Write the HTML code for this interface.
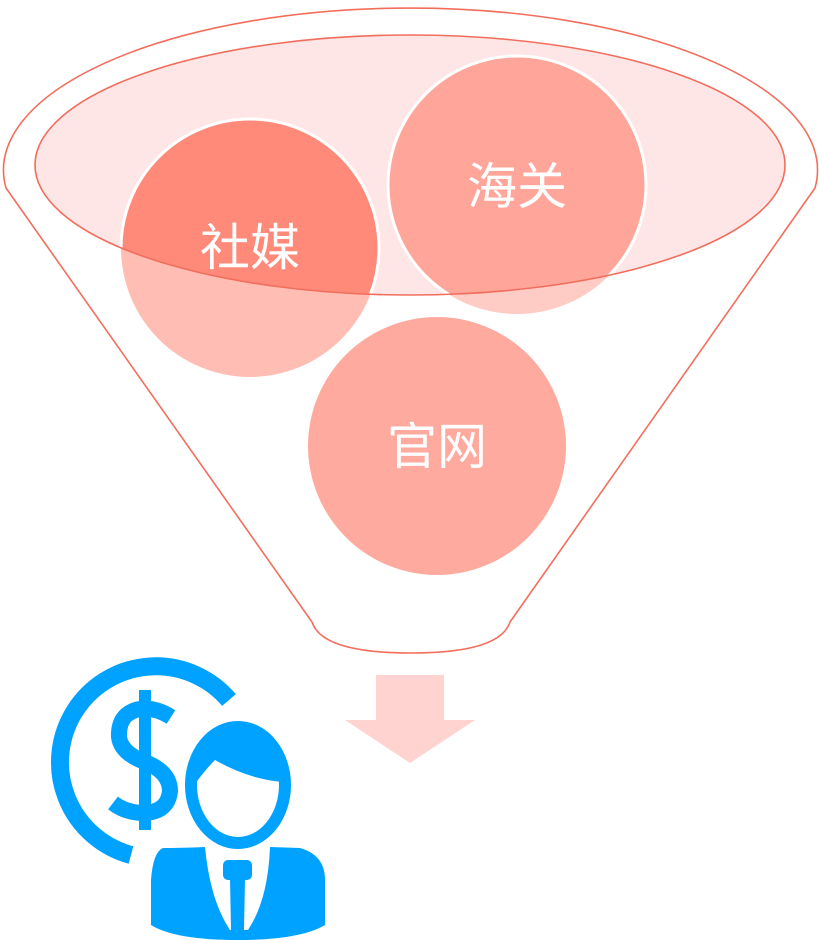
<!DOCTYPE html>
<html><head><meta charset="utf-8"><style>
html,body{margin:0;padding:0;background:#fff;width:819px;height:940px;overflow:hidden}
svg{display:block}
text{font-family:"Liberation Sans","Noto Sans CJK SC",sans-serif}
</style></head><body>
<svg width="819" height="940" viewBox="0 0 819 940" xmlns="http://www.w3.org/2000/svg">
<defs>
<clipPath id="ec"><ellipse cx="410" cy="165" rx="375" ry="130"/></clipPath>
</defs>
<path d="M6,188 A407,162 0 1 1 815,188 L510,622 Q500,653 411,653 Q322,653 312,622 Z" fill="#fff" stroke="#f26e5c" stroke-width="1.6"/>
<ellipse cx="410" cy="165" rx="375" ry="130" fill="#ffe6e6"/>
<circle cx="250" cy="248" r="129" fill="#ffbdb3"/>
<circle cx="517" cy="185" r="129" fill="#ffcbc5"/>
<g clip-path="url(#ec)">
<circle cx="250" cy="248" r="129" fill="#ff8a7a"/>
<circle cx="517" cy="185" r="129" fill="#ffa59a"/>
</g>
<circle cx="250" cy="248" r="129" fill="none" stroke="#fff" stroke-width="3" clip-path="url(#ec)"/>
<circle cx="517" cy="185" r="129" fill="none" stroke="#fff" stroke-width="3" clip-path="url(#ec)"/>
<ellipse cx="410" cy="165" rx="375" ry="130" fill="none" stroke="#f26e5c" stroke-width="1.6"/>
<circle cx="437" cy="446" r="129" fill="#ffaa9f"/>
<text x="250" y="265" font-size="50" fill="#fff" text-anchor="middle">社媒</text>
<text x="517" y="204" font-size="50" fill="#fff" text-anchor="middle">海关</text>
<text x="437" y="464" font-size="50" fill="#fff" text-anchor="middle">官网</text>
<path d="M376,675 H444 V720 H475 L410,763 L345,720 H376 Z" fill="#ffd3d0"/>
<g fill="#00a2ff">
<path d="M229,700 A96,96 0 1 0 131,855" fill="none" stroke="#00a2ff" stroke-width="18"/>
<rect x="139" y="690" width="12" height="140"/>
<path d="M171,717 Q155,707 140,709 Q118,713 119,737 Q121,753 145,762 Q170,772 170,791 Q168,812 144,813 Q126,813 113,803" fill="none" stroke="#00a2ff" stroke-width="16"/>
<ellipse cx="238" cy="785" rx="47" ry="58" fill="none" stroke="#00a2ff" stroke-width="12"/>
<path d="M191,780 Q192,728 238,726 Q283,728 285,782 Q250,780 215,760 Q205,770 195,784 Z"/>
<path d="M163,848 Q180,848 205,847 Q210,900 230,930 L248,930 Q268,900 270,847 L300,848 Q325,855 325,880 V925 Q300,940 238,940 Q175,940 151,925 V880 Q153,852 163,848 Z"/>
<rect x="223" y="860" width="29" height="20" rx="5"/>
<path d="M230,878 H245 L244,930 H231 Z"/>
</g>
</svg>
</body></html>
